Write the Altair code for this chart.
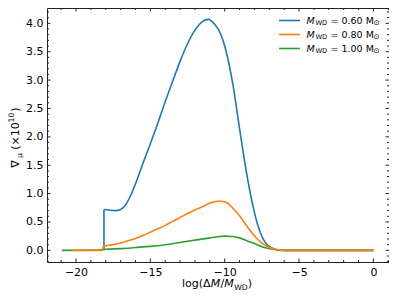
import altair as alt
import pandas as pd

# ---------------- data ----------------
masses = [0.60, 0.80, 1.00]
colors = ["#1f77b4", "#ff7f0e", "#2ca02c"]

blue_step_x = [-18.12, -18.12]
blue_step_y = [0.0, 0.72]
blue_x = [-18.12, -17.8, -17.4, -17.0, -16.7, -16.3, -15.9, -15.5, -15.0, -14.5, -14.0,
          -13.5, -13.0, -12.5, -12.0, -11.5, -11.1, -10.7, -10.3, -10.0, -9.7, -9.4, -9.1,
          -8.8, -8.5, -8.2, -7.9, -7.6, -7.3, -7.0, -6.6, -6.2, 0.0]
blue_y = [0.72, 0.71, 0.70, 0.72, 0.79, 0.98, 1.24, 1.53, 1.88, 2.24, 2.62,
          2.98, 3.33, 3.64, 3.88, 4.03, 4.07, 3.99, 3.83, 3.60, 3.27, 2.85, 2.32,
          1.80, 1.32, 0.90, 0.56, 0.31, 0.15, 0.07, 0.02, 0.0, 0.0]

orange_x = [-20.3, -18.25, -18.15, -17.8, -17.4, -17.0, -16.5, -16.0, -15.5, -15.0, -14.5,
            -14.0, -13.5, -13.0, -12.5, -12.0, -11.5, -11.0, -10.5, -10.2, -9.8, -9.4,
            -9.0, -8.6, -8.2, -7.8, -7.4, -7.0, -6.6, -6.2, -5.8, 0.0]
orange_y = [0.0, 0.0, 0.07, 0.09, 0.105, 0.13, 0.17, 0.21, 0.26, 0.32, 0.38,
            0.44, 0.51, 0.58, 0.65, 0.71, 0.77, 0.83, 0.865, 0.865, 0.83, 0.73,
            0.61, 0.46, 0.32, 0.20, 0.11, 0.05, 0.02, 0.005, 0.0, 0.0]

green_x = [-20.95, -18.5, -18.0, -17.0, -16.0, -15.0, -14.0, -13.0, -12.0, -11.0, -10.5,
           -10.0, -9.5, -9.0, -8.5, -8.0, -7.5, -7.0, -6.5, -6.0, 0.0]
green_y = [0.0, 0.005, 0.02, 0.03, 0.05, 0.07, 0.10, 0.14, 0.18, 0.22, 0.24,
           0.25, 0.245, 0.22, 0.17, 0.12, 0.065, 0.03, 0.01, 0.0, 0.0]

x_major = [-20, -15, -10, -5, 0]
x_minor = [v for v in range(-21, 2) if v not in x_major]
y_major = [0.0, 0.5, 1.0, 1.5, 2.0, 2.5, 3.0, 3.5, 4.0]
y_minor = [round(-0.2 + 0.1 * k, 1) for k in range(45)]
y_minor = [v for v in y_minor if abs(v * 2 - round(v * 2)) > 1e-6]

# ---------------- layout ----------------
W, H = 342, 254
FONT = "DejaVu Sans"
xs = alt.Scale(domain=[-21.95, 1.05], nice=False, zero=False)
ys = alt.Scale(domain=[-0.205, 4.27], nice=False, zero=False)

axX = alt.Axis(values=x_major, format="d", labelExpr="replace(datum.label, '-', '−')",
               ticks=False, domain=False, grid=False, title=None, labelFont=FONT,
               labelFontSize=11, labelColor="black", labelPadding=4, labelFlush=False)
axY = alt.Axis(values=y_major, format=".1f", labelExpr="replace(datum.label, '-', '−')",
               ticks=False, domain=False, grid=False, title=None, labelFont=FONT,
               labelFontSize=11, labelColor="black", labelPadding=4, labelFlush=False)

X = lambda: alt.X("x:Q", scale=xs, axis=axX)
Y = lambda: alt.Y("y:Q", scale=ys, axis=axY)


def curve(xx, yy, color, interp):
    df = pd.DataFrame({"x": xx, "y": yy, "i": list(range(len(xx)))})
    return alt.Chart(df).mark_line(
        color=color, strokeWidth=1.6, clip=True, interpolate=interp
    ).encode(x=X(), y=Y(), order="i:Q")


layers = [
    curve(blue_step_x, blue_step_y, colors[0], "linear"),
    curve(blue_x, blue_y, colors[0], "monotone"),
    curve(green_x, green_y, colors[2], "monotone"),
    curve(orange_x, orange_y, colors[1], "monotone"),
]


# inward ticks on all four sides
def xticks(vals, length):
    df = pd.DataFrame({"x": vals})
    bot = alt.Chart(df).mark_rule(color="#222", strokeWidth=1).encode(
        x=X(), y=alt.value(H), y2=alt.value(H - length))
    top = alt.Chart(df).mark_rule(color="#222", strokeWidth=1).encode(
        x=X(), y=alt.value(0), y2=alt.value(length))
    return [bot, top]


def yticks(vals, length):
    df = pd.DataFrame({"y": vals})
    left = alt.Chart(df).mark_rule(color="#222", strokeWidth=1).encode(
        y=Y(), x=alt.value(0), x2=alt.value(length))
    right = alt.Chart(df).mark_rule(color="#222", strokeWidth=1).encode(
        y=Y(), x=alt.value(W), x2=alt.value(W - length))
    return [left, right]


layers += xticks(x_major, 3.5) + xticks(x_minor, 2)
layers += yticks(y_major, 3.5) + yticks(y_minor, 2)

one = pd.DataFrame({"a": [0]})


def txt(s, x, y, size, italic=False, angle=0, align="left", baseline="middle"):
    kw = dict(text=s, font=FONT, fontSize=size, color="black", align=align,
              baseline=baseline)
    if italic:
        kw["fontStyle"] = "italic"
    if angle:
        kw["angle"] = angle
    return alt.Chart(one).mark_text(**kw).encode(x=alt.value(x), y=alt.value(y))


# legend
leg_y = [12.5, 26.5, 40.5]
for m, c, yy in zip(masses, colors, leg_y):
    layers.append(alt.Chart(one).mark_rule(color=c, strokeWidth=1.6).encode(
        x=alt.value(232), x2=alt.value(253), y=alt.value(yy)))
    layers.append(txt("M", 259.5, yy, 9.5, italic=True))
    layers.append(txt("WD", 268.5, yy + 2.5, 6.7))
    layers.append(txt(f"= {m:.2f} M", 283.5, yy, 9.5))
    layers.append(txt("⊙", 326.5, yy + 2.5, 7.2))

# x axis title
xb = 279
layers.append(txt("log(Δ", 135, xb, 11, baseline="alphabetic"))
layers.append(txt("M", 163.8, xb, 11, italic=True, baseline="alphabetic"))
layers.append(txt("/", 173.5, xb, 11, baseline="alphabetic"))
layers.append(txt("M", 177.3, xb, 11, italic=True, baseline="alphabetic"))
layers.append(txt("WD", 187.2, xb + 2.5, 7.7, baseline="alphabetic"))
layers.append(txt(")", 200.8, xb, 11, baseline="alphabetic"))

# y axis title (rotated)
layers.append(txt("∇", -31, 156, 11, angle=270, align="center"))
layers.append(txt("μ", -27, 147.5, 7.7, angle=270, align="center"))
layers.append(txt("(×10", -31, 128, 11, angle=270, align="center"))
layers.append(txt("10", -35, 109.5, 7.7, angle=270, align="center"))
layers.append(txt(")", -31, 101.5, 11, angle=270, align="center"))

chart = alt.layer(*layers).properties(
    width=W, height=H,
    autosize=alt.AutoSizeParams(type="none"),
    padding={"left": 39, "top": 0, "right": 0, "bottom": 29},
).configure_view(stroke="#222", strokeWidth=1)

chart.save("out.html", embed_options={"renderer": "svg", "actions": False})
